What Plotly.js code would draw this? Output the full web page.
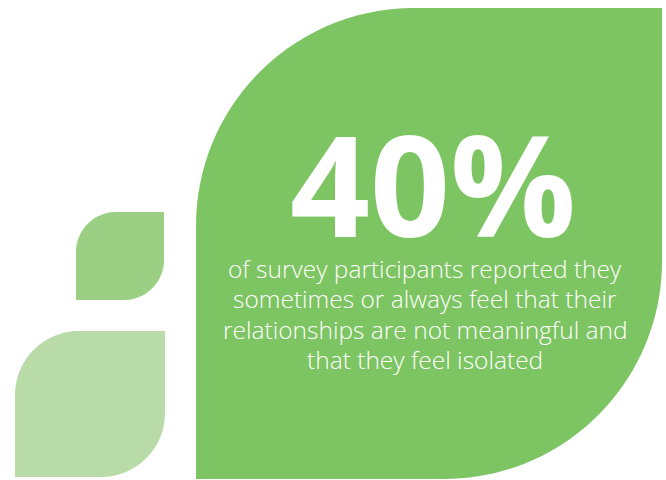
<!DOCTYPE html>
<html>
<head>
<meta charset="utf-8">
<script src="https://cdn.plot.ly/plotly-3.0.1.min.js"></script>
<style>html,body{margin:0;padding:0;background:#fff;}#chart{width:666px;height:480px;}</style>
</head>
<body>
<div id="chart"></div>
<script>
// Data
const statValue = 40;
const statLabel = statValue + "%";
const captionLines = [
  "of survey participants reported they",
  "sometimes or always feel that their",
  "relationships are not meaningful and",
  "that they feel isolated"
];
const leafColors = ["#7DC462", "#9ACF84", "#B8DBA8"];

function leafPath(x0, y0, x1, y1, r) {
  const k = 0.5523 * r;
  return "M " + x0 + "," + y1 +
    " L " + x0 + "," + (y0 + r) +
    " C " + x0 + "," + (y0 + r - k) + " " + (x0 + r - k) + "," + y0 + " " + (x0 + r) + "," + y0 +
    " L " + x1 + "," + y0 +
    " L " + x1 + "," + (y1 - r) +
    " C " + x1 + "," + (y1 - r + k) + " " + (x1 - r + k) + "," + y1 + " " + (x1 - r) + "," + y1 + " Z";
}

const shapes = [
  {type: "path", xref: "x", yref: "y", path: leafPath(196, 8, 662, 479, 218), fillcolor: leafColors[0], line: {width: 0}, layer: "below"},
  {type: "path", xref: "x", yref: "y", path: leafPath(76, 212, 164, 300, 40), fillcolor: leafColors[1], line: {width: 0}, layer: "below"},
  {type: "path", xref: "x", yref: "y", path: leafPath(15, 331, 165, 477, 64), fillcolor: leafColors[2], line: {width: 0}, layer: "below"}
];

const lineY = [268, 298, 329, 359];
const annotations = [
  {x: 433, y: 182, xref: "x", yref: "y", text: "<b>" + statLabel + "</b>", showarrow: false,
   xanchor: "center", yanchor: "middle", height: 120, valign: "middle",
   font: {family: "'Open Sans', sans-serif", size: 140, color: "#ffffff"}}
];
captionLines.forEach(function (t, i) {
  annotations.push({x: 425, y: lineY[i], xref: "x", yref: "y", text: t, showarrow: false,
    xanchor: "center", yanchor: "middle",
    font: {family: "'Open Sans', sans-serif", size: 24.5, weight: 300, color: "#ffffff"}});
});

const layout = {
  width: 666, height: 480,
  margin: {l: 0, r: 0, t: 0, b: 0},
  paper_bgcolor: "#ffffff", plot_bgcolor: "#ffffff",
  xaxis: {range: [0, 666], visible: false, fixedrange: true},
  yaxis: {range: [480, 0], visible: false, fixedrange: true},
  shapes: shapes,
  annotations: annotations,
  showlegend: false
};

Plotly.newPlot("chart", [{x: [], y: [], type: "scatter", hoverinfo: "skip"}], layout, {staticPlot: true, displayModeBar: false});
</script>
</body>
</html>
